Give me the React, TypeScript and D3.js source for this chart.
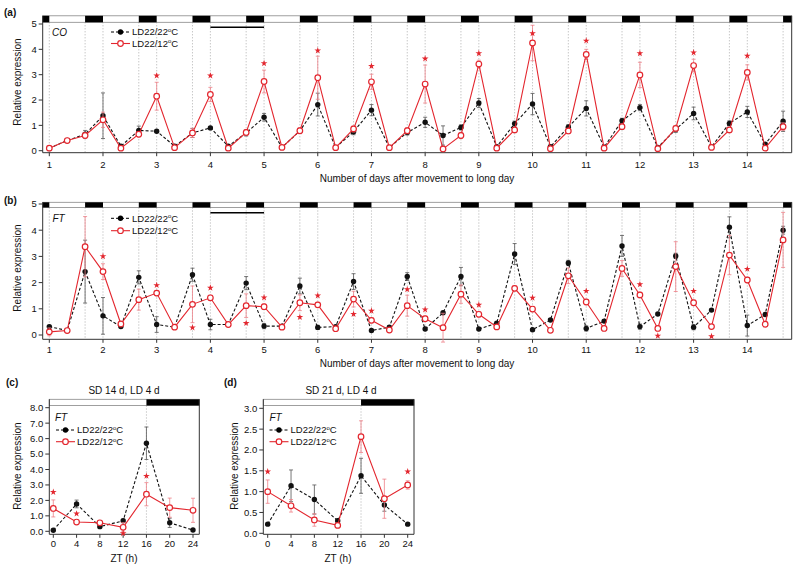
import React from 'react';
import * as d3 from 'd3';

const RED = '#e3262e';
const FONT = "'Liberation Sans', Arial, Helvetica, sans-serif";

// ---------- Panels (a) and (b): sampling schedule ----------
const dayNumbers = [1, 2, 3, 4, 5, 6, 7, 8, 9, 10, 11, 12, 13, 14];
const sampleZT = [0, 8, 16];
const darkStartZT = 16;

// (a) CO
const coA22 = [0.1, 0.4, 0.65, 1.38, 0.18, 0.8, 0.77, 0.18, 0.7, 0.9, 0.18, 0.7, 1.32, 0.13, 0.78, 1.82, 0.12, 0.75, 1.6, 0.12, 0.72, 1.12, 0.6, 0.92, 1.88, 0.16, 1.07, 1.84, 0.16, 0.93, 1.67, 0.14, 1.18, 1.7, 0.13, 0.84, 1.47, 0.15, 1.08, 1.53, 0.26, 1.16];
const coA22err = [0.03, 0.05, 0.15, 0.9, 0.05, 0.17, 0.06, 0.05, 0.18, 0.06, 0.05, 0.12, 0.15, 0.04, 0.08, 0.45, 0.04, 0.12, 0.22, 0.04, 0.1, 0.2, 0.38, 0.1, 0.18, 0.05, 0.1, 0.42, 0.05, 0.1, 0.3, 0.04, 0.1, 0.12, 0.04, 0.12, 0.25, 0.05, 0.1, 0.22, 0.06, 0.4];
const coA12 = [0.1, 0.4, 0.6, 1.22, 0.1, 0.65, 2.15, 0.12, 0.7, 2.22, 0.1, 0.72, 2.73, 0.13, 0.79, 2.88, 0.12, 0.86, 2.72, 0.12, 0.79, 2.63, 0.07, 0.6, 3.42, 0.1, 0.82, 4.25, 0.08, 0.78, 3.8, 0.1, 0.95, 2.99, 0.08, 0.88, 3.36, 0.13, 0.82, 3.09, 0.1, 0.95];
const coA12err = [0.03, 0.05, 0.1, 0.3, 0.03, 0.1, 0.55, 0.04, 0.18, 0.28, 0.04, 0.1, 0.45, 0.04, 0.12, 0.85, 0.04, 0.12, 0.3, 0.04, 0.12, 0.75, 0.03, 0.12, 0.15, 0.04, 0.08, 0.7, 0.03, 0.1, 0.2, 0.04, 0.1, 0.5, 0.03, 0.1, 0.25, 0.04, 0.1, 0.3, 0.04, 0.15];
const starsADay = [3, 4, 5, 6, 7, 8, 9, 10, 11, 12, 13, 14];
const starsAZT = [0, 0, 0, 0, 0, 0, 0, 0, 0, 0, 0, 0];
const starsAVal = [2.96, 2.96, 3.45, 3.95, 3.34, 3.63, 3.84, 4.63, 4.34, 3.84, 3.87, 3.74];

// (b) FT
const ftB22 = [0.32, 0.17, 2.42, 0.73, 0.32, 2.2, 0.4, 0.3, 2.3, 0.4, 0.4, 1.98, 0.34, 0.34, 1.87, 0.29, 0.32, 2.04, 0.17, 0.3, 2.23, 0.23, 0.85, 2.23, 0.23, 0.45, 3.09, 0.2, 0.57, 2.75, 0.25, 0.53, 3.4, 0.32, 0.8, 3.02, 0.3, 0.95, 4.11, 0.36, 0.78, 4.0];
const ftB22err = [0.05, 0.03, 1.2, 0.7, 0.05, 0.25, 0.3, 0.05, 0.25, 0.2, 0.05, 0.25, 0.1, 0.05, 0.3, 0.08, 0.05, 0.3, 0.05, 0.05, 0.15, 0.05, 0.05, 0.35, 0.05, 0.05, 0.4, 0.05, 0.05, 0.1, 0.1, 0.05, 0.4, 0.1, 0.05, 0.1, 0.1, 0.05, 0.4, 0.4, 0.05, 0.15];
const ftB12 = [0.12, 0.17, 3.37, 2.42, 0.42, 1.35, 1.6, 0.3, 1.17, 1.42, 0.4, 1.12, 1.08, 0.3, 1.23, 1.15, 0.24, 1.37, 0.56, 0.19, 1.12, 0.62, 0.28, 1.56, 0.79, 0.31, 1.78, 0.99, 0.18, 2.26, 1.26, 0.25, 2.54, 1.53, 0.25, 2.61, 1.23, 0.32, 3.05, 2.1, 0.41, 3.63];
const ftB12err = [0.15, 0.05, 1.15, 0.3, 0.05, 0.4, 0.1, 0.05, 0.7, 0.1, 0.05, 0.45, 0.1, 0.05, 0.3, 0.1, 0.05, 0.3, 0.1, 0.05, 0.4, 0.1, 0.55, 0.35, 0.1, 0.05, 0.1, 0.1, 0.05, 0.3, 0.1, 0.05, 0.3, 0.1, 0.05, 0.95, 0.1, 0.05, 0.75, 0.1, 0.05, 1.05];
const starsBDay = [2, 3, 3, 4, 4, 5, 5, 6, 6, 7, 7, 8, 9, 10, 11, 12, 12, 13, 13, 14];
const starsBZT = [0, 0, 16, 0, 16, 0, 16, 0, 16, 0, 16, 0, 0, 0, 0, 0, 8, 0, 8, 0];
const starsBVal = [3.0, 1.9, 0.28, 1.8, 0.45, 1.43, 0.68, 1.5, 0.8, 0.92, 1.74, 0.97, 1.15, 1.42, 1.68, 1.93, -0.03, 1.68, -0.05, 2.52];

// (c), (d) FT over one day
const ztCD = [0, 4, 8, 12, 16, 20, 24];
const ztTicks = [0, 4, 8, 12, 16, 20, 24];
const ftC22 = [0.07, 1.77, 0.3, 0.68, 5.7, 0.55, 0.08];
const ftC22err = [0.05, 0.25, 0.08, 0.1, 1.05, 0.3, 0.05];
const ftC12 = [1.48, 0.6, 0.55, 0.26, 2.4, 1.53, 1.36];
const ftC12err = [0.55, 0.1, 0.12, 0.3, 0.75, 0.62, 0.78];
const starsCZT = [0, 4, 12, 16];
const starsCVal = [2.54, 1.14, -0.13, 3.58];
const yTicksC = [0, 1, 2, 3, 4, 5, 6, 7, 8];

const ftD22 = [0.22, 1.14, 0.81, 0.3, 1.38, 0.68, 0.22];
const ftD22err = [0.03, 0.38, 0.35, 0.04, 0.42, 0.15, 0.03];
const ftD12 = [1.0, 0.66, 0.32, 0.19, 2.32, 0.83, 1.16];
const ftD12err = [0.28, 0.15, 0.15, 0.04, 0.38, 0.47, 0.1];
const starsDZT = [0, 24];
const starsDVal = [1.48, 1.48];
const yTicksD = [0, 0.5, 1, 1.5, 2, 2.5, 3];

const yTicksAB = [0, 1, 2, 3, 4, 5];

type Pt = { t: number; v: number; e: number };
const build = (t: number[], v: number[], e: number[]): Pt[] => t.map((tt, i) => ({ t: tt, v: v[i], e: e[i] }));
const timesAB = dayNumbers.flatMap(d => sampleZT.map(z => d + z / 24));

function Series({ x, y, pts, color, filled, dashed }: any) {
  const line = d3.line<Pt>().x(d => x(d.t)).y(d => y(d.v));
  return (
    <g>
      {pts.map((d: Pt, i: number) => (
        <g key={'e' + i} stroke={filled ? '#555' : '#ee8088'} strokeWidth={0.8}>
          <line x1={x(d.t)} x2={x(d.t)} y1={y(d.v - d.e)} y2={y(d.v + d.e)} />
          <line x1={x(d.t) - 2} x2={x(d.t) + 2} y1={y(d.v + d.e)} y2={y(d.v + d.e)} />
          <line x1={x(d.t) - 2} x2={x(d.t) + 2} y1={y(d.v - d.e)} y2={y(d.v - d.e)} />
        </g>
      ))}
      <path d={line(pts) || ''} fill="none" stroke={color} strokeWidth={1.1} strokeDasharray={dashed ? '3,2' : undefined} />
      {pts.map((d: Pt, i: number) =>
        filled ? (
          <circle key={i} cx={x(d.t)} cy={y(d.v)} r={2.7} fill={color} />
        ) : (
          <circle key={i} cx={x(d.t)} cy={y(d.v)} r={2.8} fill="#fff" stroke={color} strokeWidth={1.2} />
        )
      )}
    </g>
  );
}

function Stars({ x, y, ts, vs }: any) {
  const p = d3.symbol().type(d3.symbolStar).size(14)() || '';
  return (
    <g>
      {ts.map((t: number, i: number) => (
        <path key={i} d={p} transform={`translate(${x(t)},${y(vs[i])})`} fill={RED} />
      ))}
    </g>
  );
}

function LegendLabel({ x, y, a, b }: any) {
  return (
    <text x={x} y={y} fontSize={9.5} fontFamily={FONT} fill="#111">
      {a}
      <tspan fontSize={6} dy={-3.5}>o</tspan>
      <tspan dy={3.5}>{b}</tspan>
    </text>
  );
}

function Legend({ x0, yc1, yc2 }: any) {
  return (
    <g>
      <line x1={x0} x2={x0 + 19} y1={yc1} y2={yc1} stroke="#000" strokeWidth={1} strokeDasharray="3,2" />
      <circle cx={x0 + 9.5} cy={yc1} r={2.7} fill="#000" />
      <LegendLabel x={x0 + 21} y={yc1 + 3.4} a="LD22/22" b="C" />
      <line x1={x0} x2={x0 + 19} y1={yc2} y2={yc2} stroke={RED} strokeWidth={1.1} />
      <circle cx={x0 + 9.5} cy={yc2} r={2.8} fill="#fff" stroke={RED} strokeWidth={1.2} />
      <LegendLabel x={x0 + 21} y={yc2 + 3.4} a="LD22/12" b="C" />
    </g>
  );
}

function Frame({ x, y, left, right, barTop, barBottom, bottom, dark, grid, xTicks, yTicks, yFmt, xLabelY }: any) {
  const lo = x.invert(left);
  const hi = x.invert(right);
  return (
    <g>
      {grid.map((g: number, i: number) => (
        <line key={i} x1={x(g)} x2={x(g)} y1={barBottom} y2={bottom} stroke="#9a9a9a" strokeWidth={0.8} strokeDasharray="1,2" />
      ))}
      <rect x={left} y={barTop} width={right - left} height={barBottom - barTop} fill="#fff" stroke="#888" strokeWidth={0.8} />
      {dark.map(([a, b]: number[], i: number) => {
        const a2 = Math.max(a, lo);
        const b2 = Math.min(b, hi);
        if (b2 <= a2) return null;
        return <rect key={i} x={x(a2)} y={barTop} width={x(b2) - x(a2)} height={barBottom - barTop} fill="#000" />;
      })}
      <path d={`M${left},${barTop}V${bottom}H${right}V${barTop}`} fill="none" stroke="#333" strokeWidth={1} />
      {yTicks.map((t: number, i: number) => (
        <g key={i}>
          <line x1={left - 4} x2={left} y1={y(t)} y2={y(t)} stroke="#333" strokeWidth={1} />
          <text x={left - 6} y={y(t) + 3.4} textAnchor="end" fontSize={9.5} fontFamily={FONT} fill="#111">{yFmt(t)}</text>
        </g>
      ))}
      {xTicks.map((t: number, i: number) => (
        <g key={i}>
          <line x1={x(t)} x2={x(t)} y1={bottom} y2={bottom + 3.5} stroke="#333" strokeWidth={1} />
          <text x={x(t)} y={xLabelY} textAnchor="middle" fontSize={9.5} fontFamily={FONT} fill="#111">{t}</text>
        </g>
      ))}
    </g>
  );
}

export default function App() {
  const xAB = d3.scaleLinear().domain([1, 14]).range([49.3, 747.3]);
  const leftAB = 42.7;
  const rightAB = 791.7;
  const darkAB = [0, ...dayNumbers].map(d => [d + darkStartZT / 24, d + 1]);
  const gridAB = dayNumbers.flatMap(d => [d, d + darkStartZT / 24]);

  const yA = d3.scaleLinear().domain([0, 5]).range([150.7, 24]);
  const yB = d3.scaleLinear().domain([0, 5]).range([335, 204]);

  const xC = d3.scaleLinear().domain([0, 24]).range([53.3, 193]);
  const yC = d3.scaleLinear().domain([0, 8]).range([531.3, 407.7]);
  const xD = d3.scaleLinear().domain([0, 24]).range([267.7, 407.7]);
  const yD = d3.scaleLinear().domain([0, 3]).range([533.3, 408.3]);

  const fmtInt = (v: number) => String(v);
  const fmt1 = d3.format('.1f');

  const starTimes = (days: number[], zts: number[]) => days.map((d, i) => d + zts[i] / 24);

  const yTitle = (x: number, y: number) => (
    <text transform={`translate(${x},${y}) rotate(-90)`} textAnchor="middle" fontSize={10} fontFamily={FONT} fill="#111">Relative expression</text>
  );
  const panelLabel = (x: number, y: number, s: string) => (
    <text x={x} y={y} fontSize={10} fontWeight="bold" fontFamily={FONT} fill="#111">{s}</text>
  );

  return (
    <svg width={800} height={572} style={{ position: 'absolute', left: 0, top: 0, background: '#fff' }}>
      {/* ----- (a) ----- */}
      {panelLabel(4, 15.5, '(a)')}
      <Frame x={xAB} y={yA} left={leftAB} right={rightAB} barTop={15.8} barBottom={22.3} bottom={152.7}
        dark={darkAB} grid={gridAB} xTicks={dayNumbers} yTicks={yTicksAB} yFmt={fmtInt} xLabelY={167.5} />
      <line x1={xAB(4)} x2={xAB(5)} y1={27.3} y2={27.3} stroke="#000" strokeWidth={1.5} />
      <Series x={xAB} y={yA} pts={build(timesAB, coA22, coA22err)} color="#111" filled dashed />
      <Series x={xAB} y={yA} pts={build(timesAB, coA12, coA12err)} color={RED} />
      <Stars x={xAB} y={yA} ts={starTimes(starsADay, starsAZT)} vs={starsAVal} />
      <text x={52} y={36} fontSize={10} fontStyle="italic" fontFamily={FONT} fill="#111">CO</text>
      <Legend x0={111} yc1={32} yc2={43.5} />
      {yTitle(20.5, 82)}
      <text x={417} y={181.5} textAnchor="middle" fontSize={10} fontFamily={FONT} fill="#111">Number of days after movement to long day</text>

      {/* ----- (b) ----- */}
      {panelLabel(4, 204, '(b)')}
      <Frame x={xAB} y={yB} left={leftAB} right={rightAB} barTop={202.3} barBottom={207.5} bottom={339.3}
        dark={darkAB} grid={gridAB} xTicks={dayNumbers} yTicks={yTicksAB} yFmt={fmtInt} xLabelY={353.3} />
      <line x1={xAB(4)} x2={xAB(5)} y1={212.7} y2={212.7} stroke="#000" strokeWidth={1.5} />
      <Series x={xAB} y={yB} pts={build(timesAB, ftB22, ftB22err)} color="#111" filled dashed />
      <Series x={xAB} y={yB} pts={build(timesAB, ftB12, ftB12err)} color={RED} />
      <Stars x={xAB} y={yB} ts={starTimes(starsBDay, starsBZT)} vs={starsBVal} />
      <text x={52.5} y={221.5} fontSize={10} fontStyle="italic" fontFamily={FONT} fill="#111">FT</text>
      <Legend x0={111} yc1={218.3} yc2={230.7} />
      {yTitle(20.5, 268)}
      <text x={417} y={367} textAnchor="middle" fontSize={10} fontFamily={FONT} fill="#111">Number of days after movement to long day</text>

      {/* ----- (c) ----- */}
      {panelLabel(6, 386, '(c)')}
      <text x={124} y={394} textAnchor="middle" fontSize={10} fontFamily={FONT} fill="#111">SD 14 d, LD 4 d</text>
      <Frame x={xC} y={yC} left={49.3} right={199.3} barTop={399.3} barBottom={405.5} bottom={534.3}
        dark={[[darkStartZT, 30]]} grid={[darkStartZT]} xTicks={ztTicks} yTicks={yTicksC} yFmt={fmt1} xLabelY={547.3} />
      <Series x={xC} y={yC} pts={build(ztCD, ftC22, ftC22err)} color="#111" filled dashed />
      <Series x={xC} y={yC} pts={build(ztCD, ftC12, ftC12err)} color={RED} />
      <Stars x={xC} y={yC} ts={starsCZT} vs={starsCVal} />
      <text x={55} y={420.5} fontSize={10} fontStyle="italic" fontFamily={FONT} fill="#111">FT</text>
      <Legend x0={56} yc1={430} yc2={441.7} />
      {yTitle(20.5, 466)}
      <text x={124} y={562} textAnchor="middle" fontSize={10} fontFamily={FONT} fill="#111">ZT (h)</text>

      {/* ----- (d) ----- */}
      {panelLabel(224, 386, '(d)')}
      <text x={341} y={394} textAnchor="middle" fontSize={10} fontFamily={FONT} fill="#111">SD 21 d, LD 4 d</text>
      <Frame x={xD} y={yD} left={263.3} right={414} barTop={399.3} barBottom={405.5} bottom={534.3}
        dark={[[darkStartZT, 30]]} grid={[darkStartZT]} xTicks={ztTicks} yTicks={yTicksD} yFmt={fmt1} xLabelY={547.3} />
      <Series x={xD} y={yD} pts={build(ztCD, ftD22, ftD22err)} color="#111" filled dashed />
      <Series x={xD} y={yD} pts={build(ztCD, ftD12, ftD12err)} color={RED} />
      <Stars x={xD} y={yD} ts={starsDZT} vs={starsDVal} />
      <text x={269.5} y={420.5} fontSize={10} fontStyle="italic" fontFamily={FONT} fill="#111">FT</text>
      <Legend x0={269.5} yc1={430} yc2={441.7} />
      {yTitle(237.5, 466)}
      <text x={338} y={562} textAnchor="middle" fontSize={10} fontFamily={FONT} fill="#111">ZT (h)</text>
    </svg>
  );
}
